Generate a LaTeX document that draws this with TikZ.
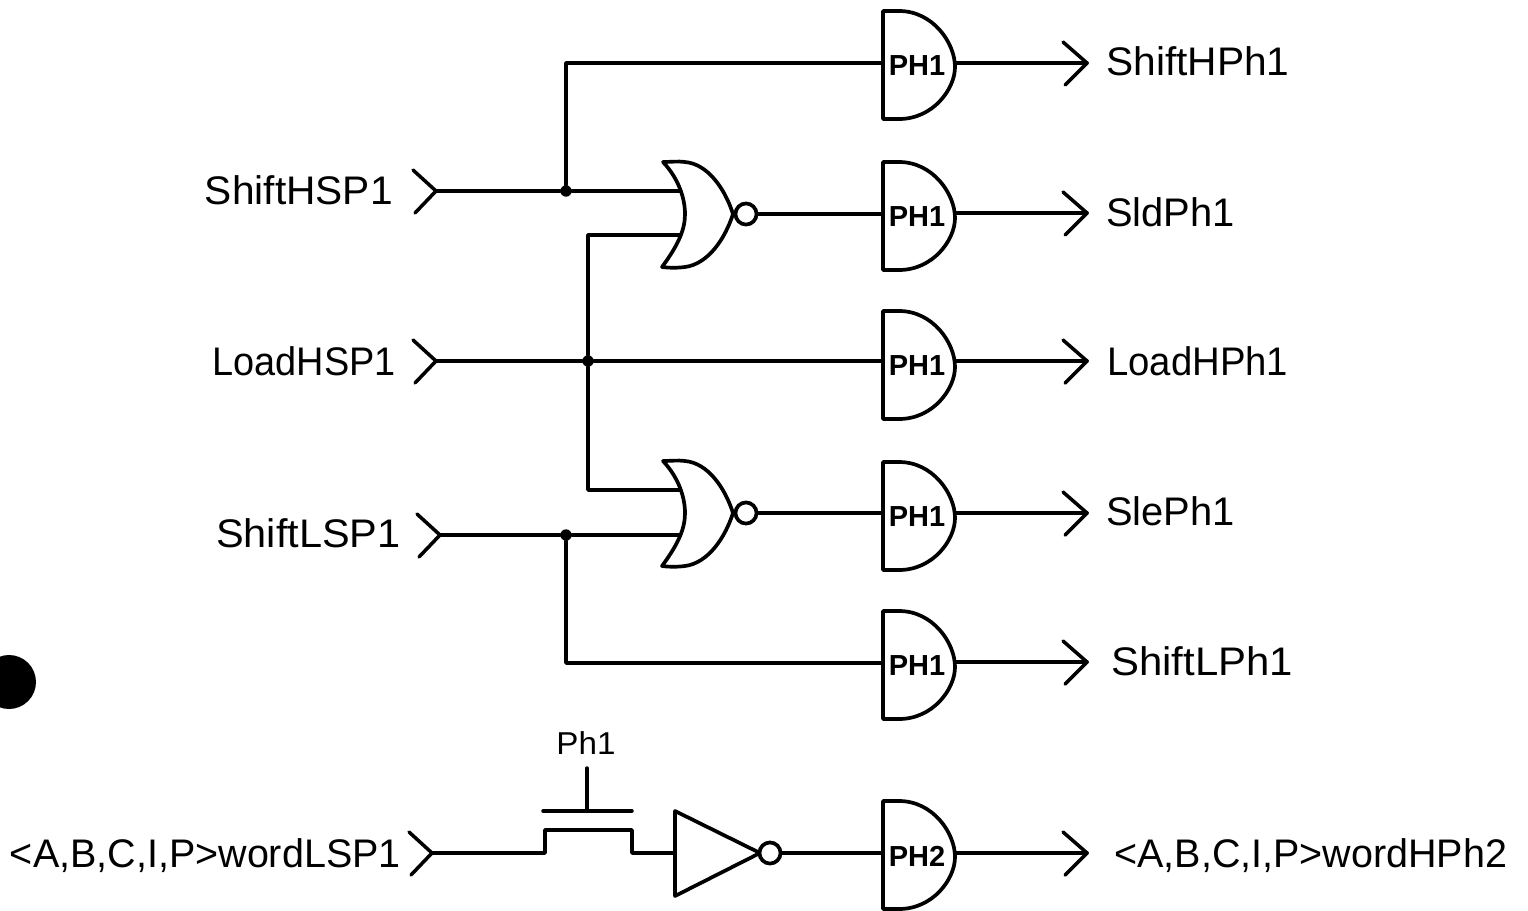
\documentclass[tikz,border=0pt]{standalone}
\usepackage{fontspec}
\setmainfont{Liberation Sans}
\tikzset{
  wire/.style={line width=2pt,line cap=round,line join=round},
  gateline/.style={line width=2.1pt,line join=round},
  dot/.style={circle,fill=black,inner sep=0pt,minimum size=6.5pt},
  label/.style={inner sep=0pt,font=\fontsize{22.7}{24}\selectfont},
  gatetext/.style={inner sep=0pt,font=\fontsize{16.5}{17}\selectfont\bfseries},
  bubble/.style={circle,draw,line width=2.1pt,inner sep=0pt,minimum size=12pt,fill=white}
}
\newcommand{\AndGate}[3]{%
  \begin{scope}[shift={(883,#2)}]
    \draw[gateline] (0,-54) -- (0,54) -- (16,54) .. controls (50,54) and (72,24) .. (72,2) .. controls (72,-22) and (50,-54) .. (16,-54) -- cycle;
    \node[gatetext] (#1) at (34,1) {#3};
    \coordinate (#1in) at (0,-2);
    \coordinate (#1out) at (72,-2);
  \end{scope}}
\newcommand{\NorGate}[2]{%
  \begin{scope}[shift={(663,#2)}]
    \draw[gateline] (0,-52) .. controls (8,-52) and (14,-53) .. (22,-52) .. controls (45,-50) and (62,-25) .. (70,0) .. controls (62,25) and (45,50) .. (22,53) .. controls (14,54) and (6,54) .. (-1,53) .. controls (16,30) and (22,15) .. (22,0) .. controls (22,-15) and (16,-35) .. (0,-52) -- cycle;
    \node[bubble] (#1) at (83,0) {};
    \coordinate (#1a) at (17,-23);
    \coordinate (#1b) at (17,21);
  \end{scope}}
\newcommand{\PortIn}[3]{%
  \draw[wire] (#2-23,#3-21) -- (#2,#3) -- (#2-21,#3+22);
  \coordinate (#1) at (#2,#3);}
\newcommand{\PortOut}[3]{%
  \draw[wire] (#2-24,#3-21) -- (#2,#3) -- (#2-22,#3+22);
  \coordinate (#1) at (#2,#3);}
\newcommand{\Fit}[2]{\scalebox{#1}[1]{#2}}
\begin{document}
\begin{tikzpicture}[x=0.02cm,y=-0.02cm]
\useasboundingbox (0,0) rectangle (1528,910);
\begin{scope}
  \clip (0,0) rectangle (1528,910);
  \fill[black] (9,682) circle (0.54cm);
\end{scope}
% gates
\AndGate{aA}{65}{PH1}
\AndGate{aB}{216}{PH1}
\AndGate{aC}{365}{PH1}
\AndGate{aD}{516}{PH1}
\AndGate{aE}{665}{PH1}
\AndGate{aF}{855}{PH2}
\NorGate{nA}{214}
\NorGate{nB}{513}
% ports
\PortIn{inA}{436}{191}
\PortIn{inB}{436}{361}
\PortIn{inC}{440}{535}
\PortIn{inD}{432}{853}
\PortOut{outA}{1087}{63}
\PortOut{outB}{1087}{213}
\PortOut{outC}{1087}{361}
\PortOut{outD}{1087}{513}
\PortOut{outE}{1087}{662}
\PortOut{outF}{1087}{853}
% junctions
\node[dot] (jA) at (566,191) {};
\node[dot] (jB) at (588,361) {};
\node[dot] (jC) at (566,535) {};
% wires
\draw[wire] (inA) -- (jA) -- (jA-|nAa);
\draw[wire] (jA) |- (aAin);
\draw[wire] (inB) -- (jB) -- (jB-|aCin);
\draw[wire] (jB) |- (nAb);
\draw[wire] (jB) |- (nBa);
\draw[wire] (inC) -- (jC) -- (jC-|nBb);
\draw[wire] (jC) |- (aEin);
\draw[wire] (nA) -- (nA-|aBin);
\draw[wire] (nB) -- (nB-|aDin);
\draw[wire] (outA-|aAout) -- (outA);
\draw[wire] (outB-|aBout) -- (outB);
\draw[wire] (outC-|aCout) -- (outC);
\draw[wire] (outD-|aDout) -- (outD);
\draw[wire] (outE-|aEout) -- (outE);
\draw[wire] (outF-|aFout) -- (outF);
% pass transistor + inverter
\coordinate (tA) at (545,853);
\coordinate (tB) at (632,853);
\coordinate (gT) at (587,768);
\coordinate (gB) at (587,811);
\draw[wire] (inD) -- (tA) -- (545,830) -- (632,830) -- (tB) -- (675,853);
\draw[wire] (543,811) -- (632,811);
\draw[wire] (gT) -- (gB);
\draw[gateline] (675,811) -- (760,853) -- (675,896) -- cycle;
\node[bubble] (nC) at (770,853) {};
\draw[wire] (nC) -- (nC-|aFin);
% labels
\node[label,anchor=east] (lA) at (393,190) {\Fit{1.02}{ShiftHSP1}};
\node[label,anchor=east] (lB) at (396,361) {\Fit{0.95}{LoadHSP1}};
\node[label,anchor=east] (lC) at (401,533) {\Fit{1.04}{ShiftLSP1}};
\node[label,anchor=east] (lD) at (401,856) {\Fit{0.99}{<A,B,C,I,P>wordLSP1}};
\node[label,anchor=west] (rA) at (1106,61) {\Fit{1.02}{ShiftHPh1}};
\node[label,anchor=west] (rB) at (1106,212) {SldPh1};
\node[label,anchor=west] (rC) at (1107,361) {\Fit{0.96}{LoadHPh1}};
\node[label,anchor=west] (rD) at (1106,511) {SlePh1};
\node[label,anchor=west] (rE) at (1111,661) {\Fit{1.05}{ShiftLPh1}};
\node[label,anchor=west] (rF) at (1114,856) {\Fit{0.99}{<A,B,C,I,P>wordHPh2}};
\node[inner sep=0pt,font=\fontsize{18}{20}\selectfont] (lP) at (586,743) {\Fit{1.05}{Ph1}};
\end{tikzpicture}
\end{document}
